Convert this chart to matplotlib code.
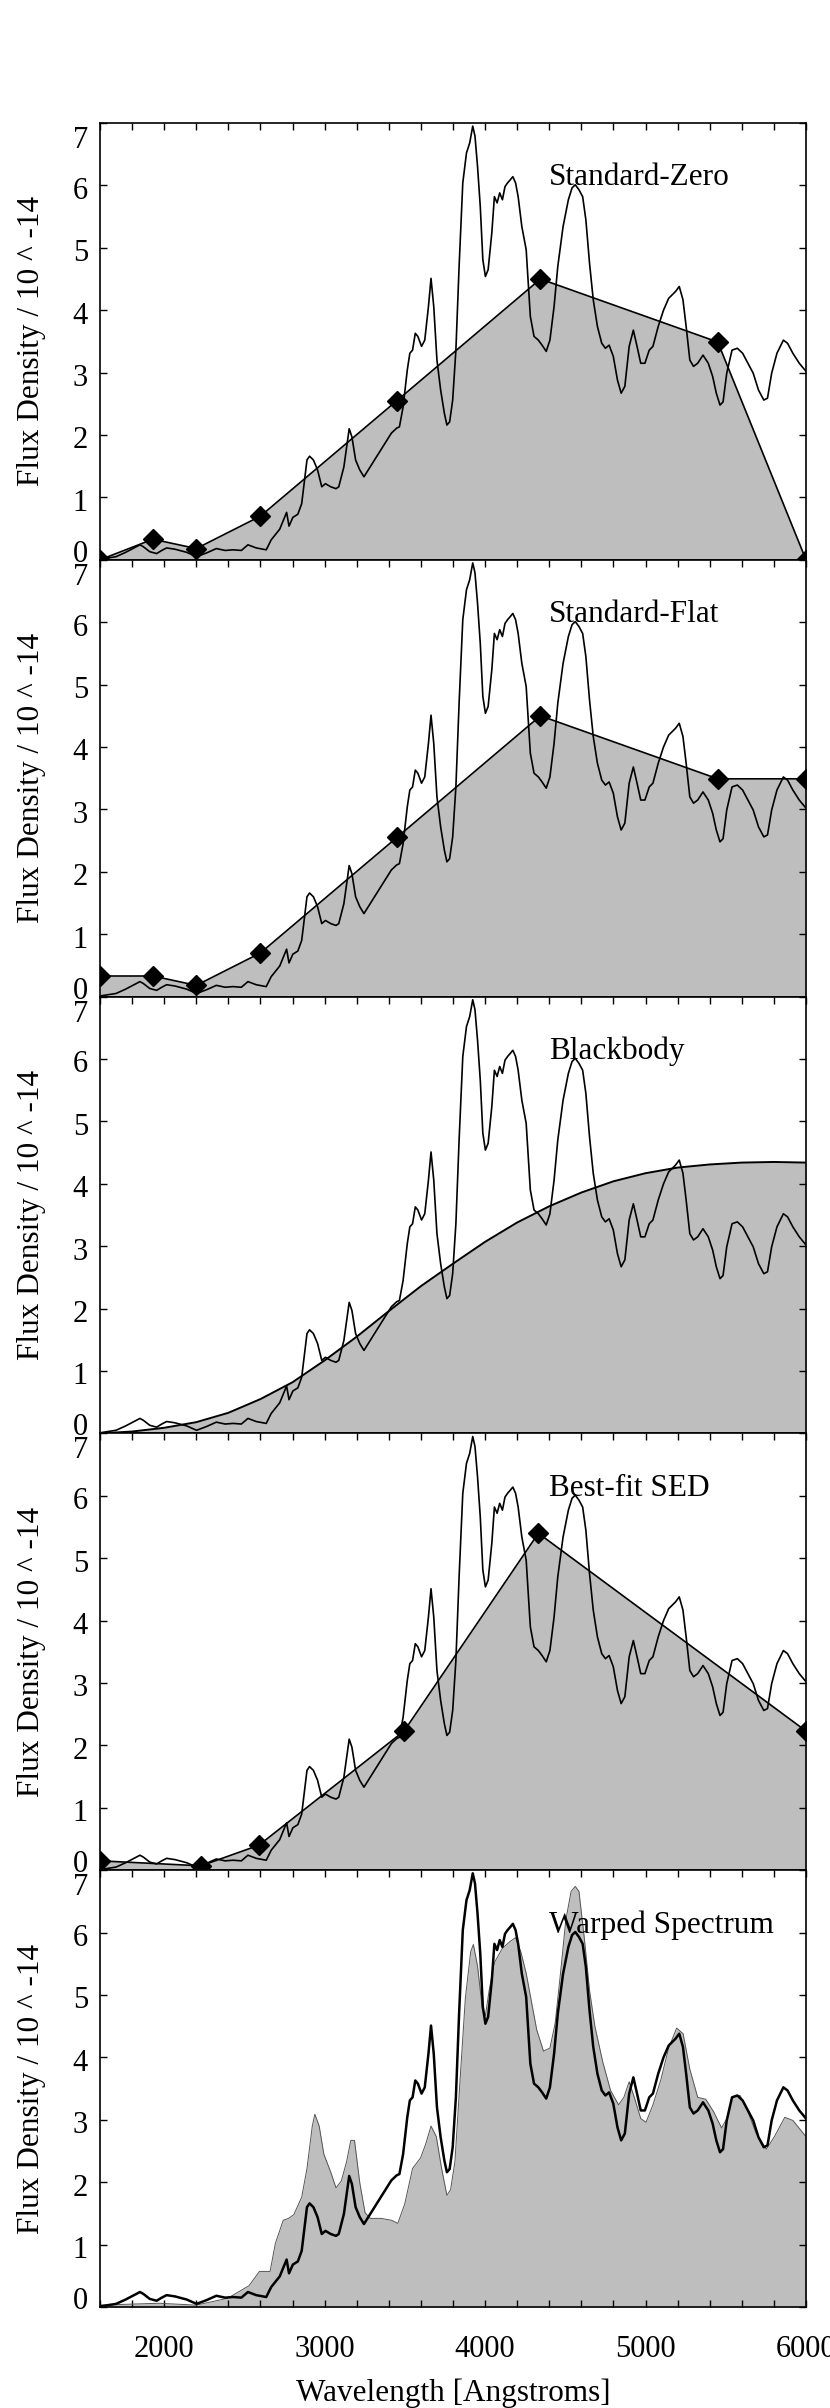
import matplotlib
matplotlib.use('Agg')
import matplotlib.pyplot as plt
from matplotlib import transforms
from matplotlib.ticker import MultipleLocator, FixedLocator

plt.rcParams['font.family'] = ['Liberation Serif', 'DejaVu Serif']

# ---------------- data ----------------
spec_wave = [1600, 1700, 1760, 1849, 1870, 1910, 1953, 1985, 2015, 2067, 2140, 2202, 2264, 2325,
             2380, 2429, 2481, 2522, 2574, 2636, 2667, 2720, 2763, 2778, 2802, 2833, 2857,
             2890, 2906, 2930, 2956, 2982, 3005, 3038, 3071, 3088, 3120, 3153, 3170, 3193, 3219, 3245,
             3416, 3449, 3466, 3489, 3515, 3531, 3548, 3565, 3581, 3604, 3624, 3647, 3663, 3680,
             3700, 3723, 3746, 3762, 3779, 3798, 3818, 3838, 3861, 3884, 3904, 3923, 3937, 3953,
             3970, 3986, 4002, 4019, 4042, 4058, 4075, 4091, 4108, 4124, 4140, 4157, 4173, 4190,
             4206, 4229, 4256, 4282, 4305, 4332, 4355, 4381, 4404, 4430, 4453, 4486, 4519, 4542,
             4562, 4585, 4608, 4628, 4651, 4674, 4700, 4727, 4750, 4773, 4799, 4825, 4848, 4871,
             4898, 4924, 4947, 4970, 4996, 5023, 5046, 5079, 5112, 5144, 5167, 5187, 5210, 5233,
             5253, 5276, 5299, 5325, 5358, 5391, 5418, 5441, 5464, 5483, 5506, 5539, 5572, 5605,
             5638, 5671, 5704, 5737, 5760, 5786, 5819, 5859, 5885, 5918, 5958, 6000]
spec_flux = [0.01, 0.05, 0.12, 0.24, 0.21, 0.13, 0.10, 0.15, 0.19, 0.17, 0.12, 0.05, 0.11, 0.18,
             0.15, 0.16, 0.15, 0.24, 0.19, 0.16, 0.32, 0.49, 0.76, 0.54, 0.68, 0.73, 0.90,
             1.60, 1.66, 1.60, 1.44, 1.17, 1.22, 1.17, 1.14, 1.17, 1.49, 2.10, 1.97, 1.60, 1.44, 1.33,
             2.03, 2.11, 2.13, 2.45, 3.04, 3.31, 3.36, 3.63, 3.58, 3.42, 3.52, 4.06, 4.51, 4.06,
             3.20, 2.72, 2.35, 2.16, 2.21, 2.56, 3.36, 4.70, 6.04, 6.52, 6.68, 6.95, 6.79, 6.30,
             5.66, 4.81, 4.54, 4.65, 5.24, 5.82, 5.72, 5.88, 5.77, 5.98, 6.04, 6.09, 6.14, 6.04,
             5.82, 5.34, 4.97, 3.90, 3.58, 3.52, 3.44, 3.34, 3.52, 4.06, 4.70, 5.34, 5.77, 5.96,
             6.01, 5.93, 5.82, 5.45, 4.75, 4.17, 3.74, 3.47, 3.39, 3.44, 3.26, 2.88, 2.67, 2.78,
             3.42, 3.68, 3.42, 3.15, 3.15, 3.36, 3.42, 3.74, 4.00, 4.19, 4.25, 4.30, 4.38, 4.17,
             3.74, 3.20, 3.10, 3.15, 3.28, 3.15, 2.94, 2.67, 2.48, 2.53, 2.99, 3.36, 3.39, 3.31,
             3.15, 2.99, 2.72, 2.56, 2.59, 2.99, 3.31, 3.52, 3.47, 3.31, 3.15, 3.02]

# Standard-Zero model (photometric points + zero ends)
zero_wave = [1600, 1930, 2200, 2600, 3450, 4345, 5450, 6000]
zero_flux = [0.00, 0.33, 0.18, 0.70, 2.55, 4.50, 3.49, 0.00]

# Standard-Flat model (flat extension at both ends)
flat_wave = [1600, 1930, 2200, 2600, 3450, 4345, 5450, 6000]
flat_flux = [0.33, 0.33, 0.18, 0.70, 2.55, 4.50, 3.49, 3.49]

# Blackbody curve
bb_wave = [1600, 1800, 2000, 2200, 2400, 2600, 2800, 3000, 3200, 3400, 3600, 3800, 4000,
           4200, 4400, 4600, 4800, 5000, 5200, 5400, 5600, 5800, 6000]
bb_flux = [0.00, 0.03, 0.09, 0.18, 0.33, 0.55, 0.82, 1.17, 1.55, 1.96, 2.36, 2.72, 3.07,
           3.38, 3.64, 3.86, 4.04, 4.17, 4.26, 4.31, 4.34, 4.35, 4.34]

# Best-fit SED
best_wave = [1600, 2230, 2590, 3495, 4332, 6000]
best_flux = [0.15, 0.07, 0.40, 2.23, 5.40, 2.23]

# Warped spectrum
warp_wave = [1600, 1969, 2199, 2396, 2528, 2594, 2660, 2693, 2742, 2775, 2808, 2857, 2890, 2923,
             2939, 2966, 2995, 3038, 3071, 3104, 3137, 3163, 3186, 3219, 3252, 3285, 3351, 3417,
             3456, 3499, 3548, 3598, 3631, 3663, 3696, 3729, 3762, 3785, 3812, 3844, 3877, 3910,
             3927, 3953, 3983, 4002, 4025, 4058, 4108, 4157, 4190, 4223, 4256, 4289, 4322, 4364,
             4404, 4437, 4470, 4503, 4536, 4562, 4585, 4618, 4651, 4684, 4733, 4782, 4832, 4865,
             4898, 4930, 4970, 5003, 5046, 5095, 5144, 5194, 5234, 5276, 5325, 5375, 5424, 5474,
             5507, 5540, 5589, 5638, 5688, 5753, 5803, 5868, 5918, 6000]
warp_flux = [0.03, 0.06, 0.03, 0.14, 0.34, 0.57, 0.57, 1.02, 1.39, 1.42, 1.48, 1.76, 2.22, 2.90,
             3.09, 2.90, 2.45, 2.16, 1.91, 2.02, 2.33, 2.67, 2.67, 1.99, 1.51, 1.42, 1.42, 1.39,
             1.34, 1.65, 2.22, 2.39, 2.62, 2.90, 2.73, 2.22, 1.79, 1.88, 2.33, 3.64, 4.95, 5.69,
             5.81, 5.46, 4.78, 4.67, 5.07, 5.52, 5.75, 5.86, 5.92, 5.69, 5.35, 4.89, 4.44, 4.10,
             4.15, 4.55, 5.35, 6.20, 6.66, 6.74, 6.66, 5.92, 5.07, 4.50, 3.93, 3.47, 3.24, 3.36,
             3.61, 3.36, 3.02, 2.96, 3.24, 3.64, 4.15, 4.47, 4.38, 3.81, 3.36, 3.33, 3.13, 2.87,
             3.02, 3.36, 3.39, 3.13, 2.79, 2.53, 2.73, 3.04, 2.99, 2.73]

panel_titles = ['Standard-Zero', 'Standard-Flat', 'Blackbody', 'Best-fit SED', 'Warped Spectrum']
y_ticks = [0, 1, 2, 3, 4, 5, 6, 7]
x_major = [2000, 3000, 4000, 5000, 6000]

# ---------------- layout ----------------
W, H = 830, 2408
fig = plt.figure(figsize=(W / 100, H / 100), dpi=100)
left_px, right_px = 100, 806
top_px, bottom_px = 123, 2307
ph = (bottom_px - top_px) / 5.0

GRAY = '#bebebe'
FS = 22.5

axes = []
for i in range(5):
    y0 = H - (top_px + ph * (i + 1))
    ax = fig.add_axes([left_px / W, y0 / H, (right_px - left_px) / W, ph / H])
    axes.append(ax)
    ax.set_xlim(1600, 6000)
    ax.set_ylim(0, 7)
    for sp in ax.spines.values():
        sp.set_linewidth(1.2)
        sp.set_zorder(6)
    ax.xaxis.set_major_locator(FixedLocator(x_major))
    ax.xaxis.set_minor_locator(MultipleLocator(200))
    ax.set_yticks(y_ticks)
    last = (i == 4)
    ax.tick_params(axis='both', which='both', direction='in', length=5, width=1.0,
                   top=True, bottom=last, left=True, right=True,
                   labelleft=False, labelbottom=last, labeltop=False, labelright=False)
    ax.tick_params(axis='x', which='major', labelsize=22, pad=20)
    for t in ax.get_xticklabels():
        t.set_zorder(7)

    # manual y tick labels (IDL-like placement of end labels)
    blend = transforms.blended_transform_factory(ax.transAxes, ax.transData)
    for v in y_ticks:
        if v == 7:
            dy = -25
        elif v == 0:
            dy = -2
        else:
            dy = -13.5
        tr = blend + transforms.ScaledTranslation(-12 / 100, dy / 100, fig.dpi_scale_trans)
        ax.text(0, v, str(v), transform=tr, ha='right', va='baseline', fontsize=22,
                clip_on=False)

    ax.set_ylabel('Flux Density / 10 ^ -14', fontsize=22.5)
    ax.yaxis.set_label_coords(-0.076, 0.5)

    ax.text(4400, 6.0, panel_titles[i], fontsize=FS, ha='left', va='baseline', zorder=8)

lw = 1.2
kw_m = dict(marker='D', markersize=9.7, color='black', lw=lw, zorder=5)

# Panel 1: Standard-Zero
ax = axes[0]
ax.fill_between(zero_wave, zero_flux, 0, color=GRAY, lw=0, zorder=1)
ax.plot(spec_wave, spec_flux, color='black', lw=lw, zorder=3)
ax.plot(zero_wave, zero_flux, **kw_m)

# Panel 2: Standard-Flat
ax = axes[1]
ax.fill_between(flat_wave, flat_flux, 0, color=GRAY, lw=0, zorder=1)
ax.plot(spec_wave, spec_flux, color='black', lw=lw, zorder=3)
ax.plot(flat_wave, flat_flux, **kw_m)

# Panel 3: Blackbody
ax = axes[2]
ax.fill_between(bb_wave, bb_flux, 0, color=GRAY, lw=0, zorder=1)
ax.plot(spec_wave, spec_flux, color='black', lw=lw, zorder=3)
ax.plot(bb_wave, bb_flux, color='black', lw=1.4, zorder=4)

# Panel 4: Best-fit SED
ax = axes[3]
ax.fill_between(best_wave, best_flux, 0, color=GRAY, lw=0, zorder=1)
ax.plot(spec_wave, spec_flux, color='black', lw=lw, zorder=3)
ax.plot(best_wave, best_flux, **kw_m)

# Panel 5: Warped spectrum
ax = axes[4]
ax.fill_between(warp_wave, warp_flux, 0, color=GRAY, lw=0, zorder=1)
ax.plot(warp_wave, warp_flux, color='#555555', lw=0.7, zorder=2)
ax.plot(spec_wave, spec_flux, color='black', lw=1.8, zorder=3)

fig.text(((left_px + right_px) / 2) / W, (H - 2400.5) / H, 'Wavelength [Angstroms]',
         ha='center', va='baseline', fontsize=22.5)

fig.savefig('out.png', dpi=100)
